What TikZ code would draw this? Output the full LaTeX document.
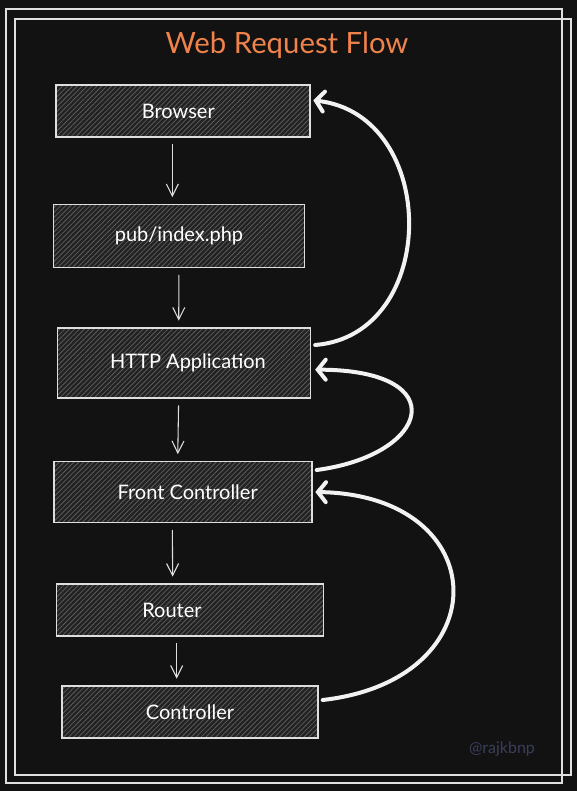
\documentclass[tikz,border=0pt]{standalone}
\usepackage{fontspec}
\setmainfont{Lato}
\usepackage{tikz}
\usetikzlibrary{shapes,arrows.meta,patterns.meta}
\definecolor{bgdark}{RGB}{18,18,18}
\definecolor{boxfill}{RGB}{34,34,34}
\definecolor{hatch}{RGB}{92,92,92}
\definecolor{boxline}{RGB}{222,222,222}
\definecolor{titleorange}{RGB}{240,130,75}
\definecolor{markblue}{RGB}{58,62,92}
\tikzstyle{block} = [rectangle, draw=boxline, line width=1pt, fill=boxfill,
    postaction={pattern={Lines[angle=45,distance=2.6pt,line width=0.6pt]}, pattern color=hatch},
    postaction={draw=boxline, line width=1pt},
    text=white, font=\fontsize{15}{17}\selectfont]
\tikzstyle{line} = [draw=boxline, line width=0.8pt, -{Straight Barb[length=9pt,width=9pt]},
    shorten <=5pt, shorten >=5pt]
\tikzstyle{back} = [draw=white!95!black, line width=3pt, line cap=round,
    -{Straight Barb[length=6pt,width=15pt,line cap=round]}]
\tikzstyle{frame} = [draw=white!88!black, line width=0.8pt]

\begin{document}
\begin{tikzpicture}[x=0.75pt, y=-0.75pt]
    \fill[bgdark] (0,0) rectangle (577,791);
    \useasboundingbox (0,0) rectangle (577,791);
    % Frame and title
    \draw[frame] (6,9) rectangle (562,783);
    \draw[frame] (15,19) rectangle (571,775);
    \node [text=titleorange, font=\fontsize{22}{25}\selectfont] (title) at (287,45) {Web Request Flow};

    % Place nodes
    \node [block, minimum width=190.5pt, minimum height=39pt] (browser) at (183,111) {\hspace*{-7pt}Browser};
    \node [block, minimum width=188.25pt, minimum height=47.25pt] (index) at (179,236) {pub/index.php};
    \node [block, minimum width=189.75pt, minimum height=52.5pt] (http) at (184,363) {HTTP Application\hspace*{-6pt}};
    \node [block, minimum width=193.5pt, minimum height=45.75pt] (front) at (183,492) {Front Controller\hspace*{-7pt}};
    \node [block, minimum width=200.25pt, minimum height=39pt] (router) at (190,610) {\hspace*{-27pt}Router};
    \node [block, minimum width=192pt, minimum height=39pt] (controller) at (190,712) {Controller};
    \node [text=markblue, font=\fontsize{12}{14}\selectfont] (mark) at (502,749) {@rajkbnp};

    % Draw edges
    \path [line] ([xshift=-8pt]browser.south) -- ([xshift=-5pt]index.north);
    \path [line] (index.south) -- ([xshift=-4pt]http.north);
    \path [line] ([xshift=-4pt]http.south) -- ([xshift=-4pt]front.north);
    \path [line] ([xshift=-8pt]front.south) -- ([xshift=-13pt]router.north);
    \path [line] ([xshift=-10pt]router.south) -- ([xshift=-10pt]controller.north);

    % Responses going back up
    \path [back] ([xshift=3pt,yshift=13.5pt]http.east) .. controls (440,335) and (440,115) .. ([xshift=2pt,yshift=8pt]browser.east);
    \path [back] ([xshift=3pt,yshift=16.5pt]front.east) .. controls (430,455) and (455,370) .. ([xshift=3pt,yshift=-5pt]http.east);
    \path [back] ([xshift=3pt,yshift=9pt]controller.east) .. controls (500,680) and (495,495) .. ([xshift=2pt]front.east);
\end{tikzpicture}
\end{document}
